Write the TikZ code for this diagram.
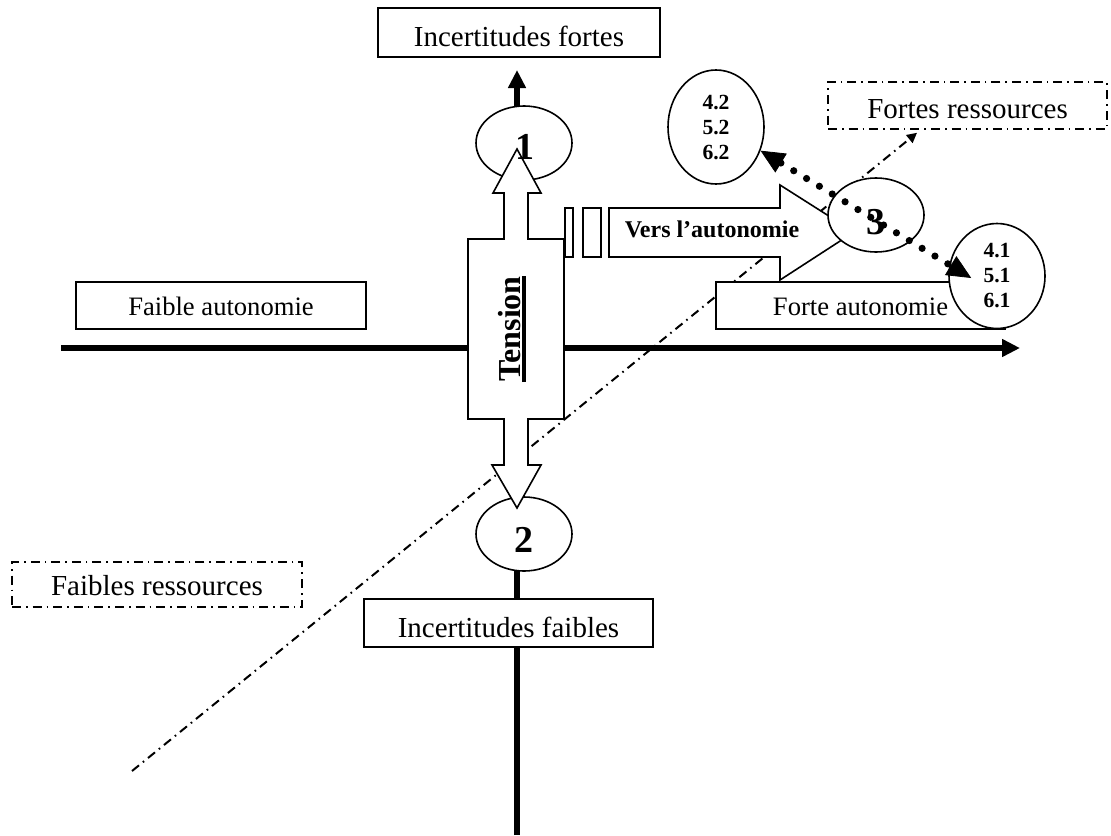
\documentclass[tikz,border=0pt]{standalone}
\usepackage{fontspec}
\setmainfont{Liberation Serif}
\usetikzlibrary{arrows.meta, shapes.geometric}

\begin{document}
\begin{tikzpicture}[x=0.5pt, y=-0.5pt,
  axe/.style={line width=3pt, -{Triangle[length=9pt, width=8.5pt]}},
  boite/.style={draw, fill=white, line width=0.8pt, inner sep=0pt},
  grand/.style={font=\fontsize{14.5}{17}\selectfont},
  moyen/.style={font=\fontsize{13.3}{16}\selectfont},
  tiret/.style={line width=0.8pt, dash pattern=on 4.5pt off 2.5pt on 0.8pt off 2.5pt},
  bulle/.style={draw, fill=white, ellipse, line width=0.8pt, inner sep=0pt, minimum width=48pt},
  chiffre/.style={inner sep=0pt, font=\bfseries\fontsize{19}{22}\selectfont},
  liste/.style={align=center, font=\bfseries\fontsize{10.8}{12.5}\selectfont},
  fleche/.style={draw, fill=white, line width=0.8pt}]
  \useasboundingbox (0,0) rectangle (1111,835);

  % 座標軸（縦と横）
  \coordinate (vbas) at (517,835);
  \coordinate (vhaut) at (517,70);
  \coordinate (hgauche) at (61,348);
  \coordinate (hdroite) at (1020,348);
  \draw[axe] (vbas) -- (vhaut);
  \draw[axe] (hgauche) -- (hdroite);

  % 資源の軸（一点鎖線）
  \node[boite, grand, tiret, minimum width=139.5pt, text height=18pt, text depth=5.5pt]
    (fortres) at (967.5,105.5) {Fortes ressources};
  \coordinate (resbas) at (132,771);
  \draw[tiret, line width=1pt, -{Triangle[length=5pt, width=5pt]}]
    (resbas) -- ([xshift=-25.25pt, yshift=-1.5pt]fortres.south);

  % ラベルの枠
  \node[boite, grand, minimum width=141pt, text height=19pt, text depth=5.5pt]
    (incfort) at (519,32.5) {Incertitudes fortes};
  \node[boite, grand, minimum width=144.5pt, text height=19pt, text depth=5pt]
    (incfaib) at (508.5,623) {Incertitudes faibles};
  \node[boite, grand, tiret, minimum width=145pt, text height=16.5pt, text depth=6pt]
    (faibres) at (157,584.5) {Faibles ressources};
  \node[boite, moyen, minimum width=145pt, text height=16.5pt, text depth=7pt]
    (faibaut) at (221,305.5) {Faible autonomie};
  \node[boite, moyen, minimum width=144.5pt, text height=16.5pt, text depth=7pt]
    (fortaut) at (860.5,305.5) {Forte autonomie};

  % 楕円 1 と 2
  \node[bulle, minimum height=37pt] (e1) at (524,143) {};
  \node[bulle, minimum height=37pt] (e2) at (524,534) {};

  % 「Tension」の両矢印
  \draw[fleche] (517,149) -- (541,193) -- (528,193) -- (528,239) -- (564,239)
    -- (564,419) -- (528,419) -- (528,465) -- (541,465) -- (517,508)
    -- (492,465) -- (504,465) -- (504,419) -- (468,419) -- (468,239)
    -- (504,239) -- (504,193) -- (493,193) -- cycle;
  \node[rotate=90, anchor=base, inner sep=0pt, font=\bfseries\fontsize{16}{19}\selectfont]
    (tension) at (520,329) {Tension};
  \draw[line width=2pt] ([xshift=2pt]tension.base west) -- ([xshift=2pt]tension.base east);
  \node[chiffre] (n1) at (525,147) {1};
  \node[chiffre] (n2) at (524,540) {2};

  % 「Vers l'autonomie」の縞模様の矢印
  \foreach \xa/\xb in {565/573, 583/601} {
    \draw[fleche] (\xa,208) rectangle (\xb,257);
  }
  \draw[fleche] (609,208) -- (780,208) -- (780,185) -- (854,232)
    -- (780,280) -- (780,257) -- (609,257) -- cycle;
  \node[inner sep=0pt, font=\bfseries\fontsize{12}{14}\selectfont] (vers) at (712,229) {Vers l’autonomie};

  % 楕円 3, 4.2, 4.1
  \node[bulle, minimum height=37pt] (e3) at (876,215) {};
  \node[chiffre] (n3) at (876,222) {3};
  \node[bulle, liste, minimum height=57pt] (e42) at (716,127) {4.2\\5.2\\6.2};
  \node[bulle, liste, minimum height=52.5pt] (e41) at (997,276) {4.1\\5.1\\6.1};

  % 点線の両矢印
  \coordinate (tip41) at ([xshift=11.5pt, yshift=-1pt]e41.west);
  \draw[line width=3.6pt, line cap=round, dash pattern=on 0pt off 7.5pt,
    {Triangle[length=12pt, width=11pt, line width=0.4pt]}-{Triangle[length=12pt, width=11pt, line width=0.4pt]}]
    (e42.-28) -- (tip41);

\end{tikzpicture}
\end{document}
